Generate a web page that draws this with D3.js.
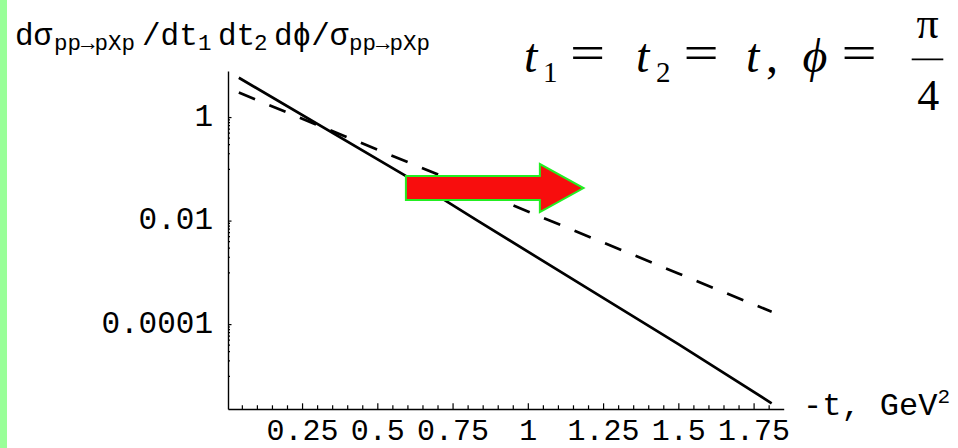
<!DOCTYPE html>
<html>
<head>
<meta charset="utf-8">
<script src="https://cdn.jsdelivr.net/npm/d3@7"></script>
<style>
  html, body { margin: 0; padding: 0; background: #ffffff; }
  svg { display: block; }
</style>
</head>
<body>
<svg id="chart" width="958" height="448"></svg>
<script>
// -t values (GeV^2) where each curve is sampled
const solidT = [0.04, 0.6, 0.83, 1.2, 1.5, 1.81];
// normalised cross section, solid curve
const solidValues = [5.75, 0.070, 0.0102, 4.85e-4, 4.1e-5, 2.95e-6];
const dashedT = [0.04, 0.5, 1.0, 1.5, 1.81];
// normalised cross section, dashed curve
const dashedValues = [2.97, 0.235, 0.0150, 9.5e-4, 1.73e-4];

// axis ticks
const xMajorTicks = [0.25, 0.5, 0.75, 1, 1.25, 1.5, 1.75];
const xTickLabels = ["0.25", "0.5", "0.75", "1", "1.25", "1.5", "1.75"];
const xMinorTicks = d3.range(1, 37).map(i => i * 0.05).filter(v => Math.abs(v / 0.25 - Math.round(v / 0.25)) > 1e-6);
const yMajorTicks = [1, 0.01, 0.0001];
const yTickLabels = ["1", "0.01", "0.0001"];
const yMinorTicks = yMajorTicks.flatMap(m => d3.range(1, 10).map(k => m * k / 10));

// arrow annotation (in data units)
const arrowT = [0.595, 1.04, 1.185];
const arrowLevel = 0.0425;

const svg = d3.select("#chart");
const mono = "'Liberation Mono', 'Courier New', monospace";
const serif = "'Liberation Serif', 'Times New Roman', serif";

// left green strip
svg.append("rect").attr("x", 0).attr("y", 0).attr("width", 7).attr("height", 448).attr("fill", "#99ff99");

const x = d3.scaleLinear().domain([0.004, 1.85]).range([228, 783.7]);
const y = d3.scaleLog().domain([Math.pow(10, 0.89), Math.pow(10, -5.64)]).range([71, 409]);

// x axis
const gx = svg.append("g").attr("transform", "translate(0,409)");
gx.call(d3.axisBottom(x).tickValues(xMinorTicks).tickSize(-3.7).tickSizeOuter(0).tickFormat(""));
gx.call(g => g.select(".domain").remove());
const gxMajor = svg.append("g").attr("transform", "translate(0,409)")
  .call(d3.axisBottom(x).tickValues(xMajorTicks).tickSize(-5.7).tickSizeOuter(0)
    .tickFormat((d, i) => xTickLabels[i]));
gxMajor.selectAll("text").attr("y", 31).attr("dy", null)
  .attr("font-family", mono).attr("font-size", 30).attr("fill", "#000");
[gx, gxMajor].forEach(g => {
  g.selectAll("line").attr("stroke", "#000").attr("stroke-width", 1.2);
  g.select(".domain").attr("stroke", "#000").attr("stroke-width", 1.4);
});

// y axis
const gy = svg.append("g").attr("transform", "translate(228,0)");
gy.call(d3.axisLeft(y).tickValues(yMinorTicks).tickSize(-2).tickSizeOuter(0).tickFormat(""));
gy.call(g => g.select(".domain").remove());
const gyMajor = svg.append("g").attr("transform", "translate(228,0)")
  .call(d3.axisLeft(y).tickValues(yMajorTicks).tickSize(-3.5).tickSizeOuter(0).tickPadding(15)
    .tickFormat((d, i) => yTickLabels[i]));
gyMajor.selectAll("text").attr("dy", 8)
  .attr("font-family", mono).attr("font-size", 31).attr("fill", "#000");
[gy, gyMajor].forEach(g => {
  g.selectAll("line").attr("stroke", "#000").attr("stroke-width", 1.2);
  g.select(".domain").attr("stroke", "#000").attr("stroke-width", 1.4);
});

// curves
const line = d3.line().x(d => x(d[0])).y(d => y(d[1]));
svg.append("path")
  .datum(d3.zip(solidT, solidValues))
  .attr("d", line).attr("fill", "none").attr("stroke", "#000").attr("stroke-width", 2.7);
svg.append("path")
  .datum(d3.zip(dashedT, dashedValues))
  .attr("d", line).attr("fill", "none").attr("stroke", "#000").attr("stroke-width", 2.7)
  .attr("stroke-dasharray", "17.5,15.5");

// red arrow
const ay = y(arrowLevel), bodyH = 12, headH = 24;
const arrowPts = [
  [x(arrowT[0]), ay - bodyH], [x(arrowT[1]), ay - bodyH], [x(arrowT[1]), ay - headH],
  [x(arrowT[2]), ay], [x(arrowT[1]), ay + headH], [x(arrowT[1]), ay + bodyH],
  [x(arrowT[0]), ay + bodyH]
];
svg.append("polygon")
  .attr("points", arrowPts.map(p => p.join(",")).join(" "))
  .attr("fill", "#f80d0d").attr("stroke", "#22ee22").attr("stroke-width", 2)
  .attr("stroke-linejoin", "miter");

// y-axis title
const yTitle = [
  { t: "dσ", x: 15, size: 31, base: 45 },
  { t: "pp→pXp", x: 54, size: 22.5, base: 50 },
  { t: "/dt", x: 142, size: 31, base: 45 },
  { t: "1", x: 198, size: 22.5, base: 50 },
  { t: "dt", x: 218, size: 31, base: 45 },
  { t: "2", x: 254, size: 22.5, base: 50 },
  { t: "dϕ/σ", x: 274, size: 31, base: 45 },
  { t: "pp→pXp", x: 349, size: 22.5, base: 50 }
];
yTitle.forEach(s => svg.append("text").attr("x", s.x).attr("y", s.base)
  .attr("font-family", mono).attr("font-size", s.size).attr("fill", "#000").text(s.t));

// x-axis title
const xTitle = svg.append("text").attr("x", 803).attr("y", 415)
  .attr("font-family", mono).attr("font-size", 32).attr("fill", "#000");
xTitle.append("tspan").text("-t, GeV");
xTitle.append("tspan").attr("dy", -12).attr("font-size", 21).text("2");

// formula in the upper right
const formula = [
  { t: "t", x: 524, y: 71.7, size: 48, italic: true },
  { t: "1", x: 543, y: 81.5, size: 29 },
  { t: "=", x: 587.5, y: 69, size: 48, mid: true, sx: 1.3 },
  { t: "t", x: 636, y: 71.7, size: 48, italic: true },
  { t: "2", x: 656, y: 81.5, size: 29 },
  { t: "=", x: 701, y: 69, size: 48, mid: true, sx: 1.3 },
  { t: "t", x: 746, y: 71.7, size: 48, italic: true },
  { t: ",", x: 766, y: 71.7, size: 48 },
  { t: "ϕ", x: 815, y: 71.7, size: 48, italic: true, mid: true },
  { t: "=", x: 859, y: 69, size: 48, mid: true, sx: 1.3 },
  { t: "π", x: 927.5, y: 38.3, size: 44, mid: true },
  { t: "4", x: 928.3, y: 110, size: 44, mid: true }
];
formula.forEach(s => svg.append("text")
  .attr("transform", `translate(${s.x},${s.y}) scale(${s.sx || 1},1)`)
  .attr("font-family", serif).attr("font-size", s.size)
  .attr("font-style", s.italic ? "italic" : "normal")
  .attr("text-anchor", s.mid ? "middle" : "start").attr("fill", "#000").text(s.t));
svg.append("line").attr("x1", 911.7).attr("x2", 943.3).attr("y1", 59.3).attr("y2", 59.3)
  .attr("stroke", "#000").attr("stroke-width", 1.8);
</script>
</body>
</html>
